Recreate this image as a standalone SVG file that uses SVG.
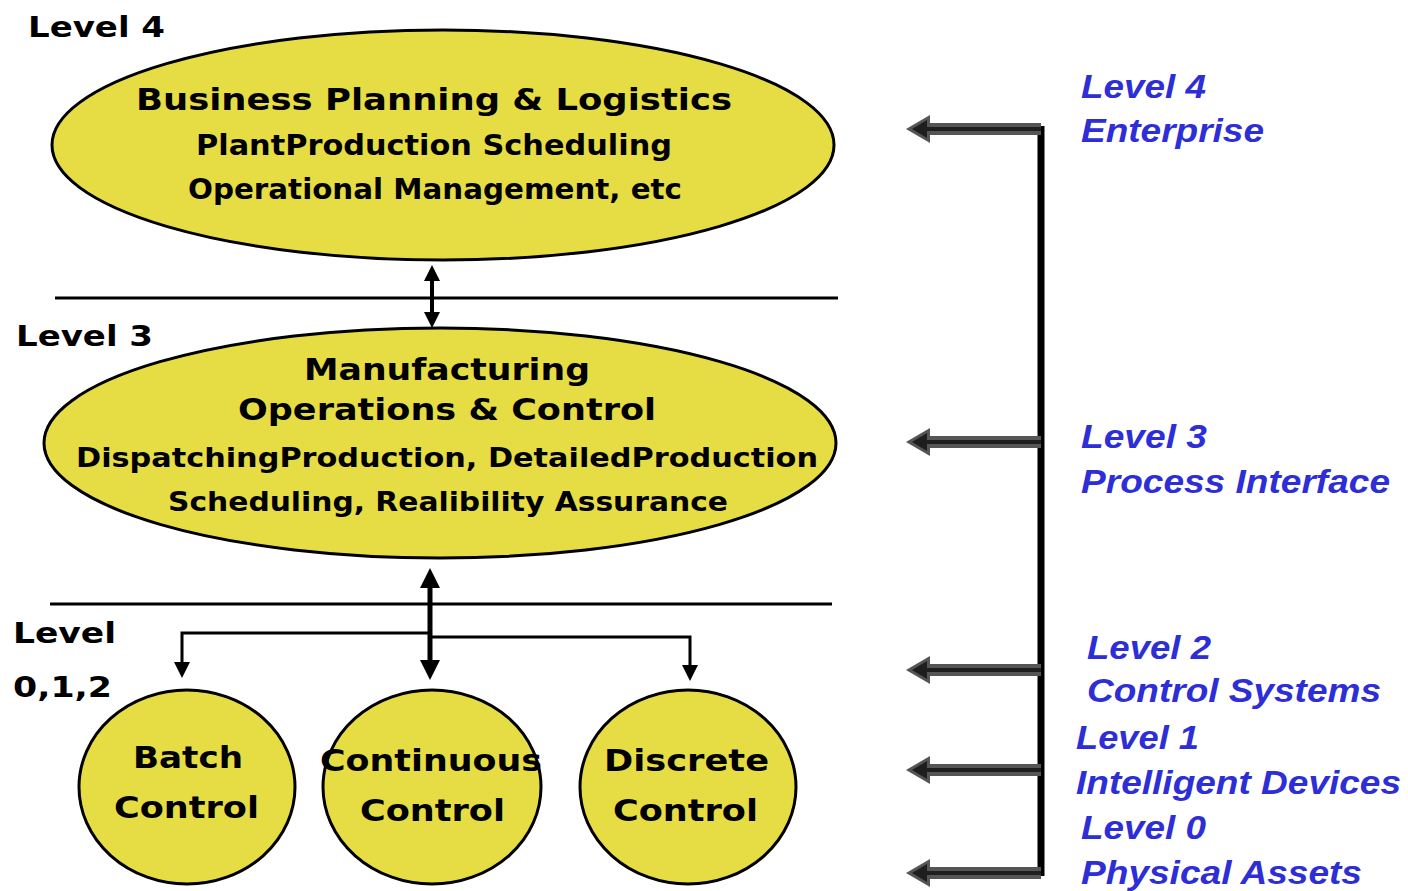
<svg xmlns="http://www.w3.org/2000/svg" width="1408" height="891" viewBox="0 0 1408 891">
<style>
.node{fill:#e6dd45;stroke:#000;stroke-width:3}
.t{font-family:"DejaVu Sans",sans-serif;font-weight:bold;fill:#000}
.b{font-family:"Liberation Sans",Arial,sans-serif;font-weight:bold;font-style:italic;font-size:34px;fill:#2e2ed6}
.sep{stroke:#000;stroke-width:3}
.blk{stroke:#000;fill:none}
.gs{stroke:#555;stroke-width:12}
.gc{stroke:#1e1e1e;stroke-width:4}
</style>
<defs>
<marker id="ah" markerWidth="4" markerHeight="4" refX="2" refY="2" orient="auto-start-reverse" markerUnits="strokeWidth" viewBox="0 0 4 4">
<path d="M0,0 L4,2 L0,4 z" fill="#000"/>
</marker>
<marker id="ah2" markerWidth="16" markerHeight="16" refX="6" refY="8" orient="auto-start-reverse" markerUnits="userSpaceOnUse" viewBox="0 0 16 16">
<path d="M0,0 L16,8 L0,16 z" fill="#000"/>
</marker>
<g id="garrow">
<line class="gs" x1="926" y1="0" x2="1041" y2="0"/>
<path d="M906,0 L930,-14 L930,14 z" fill="#555"/>
<path d="M912,0 L927,-9 L927,9 z" fill="#1e1e1e"/>
<line class="gc" x1="926" y1="0" x2="1041" y2="0"/>
</g>
</defs>
<rect width="1408" height="891" fill="#fff"/>

<g id="labels">
<text class="t" x="28" y="37" font-size="28" textLength="137" lengthAdjust="spacingAndGlyphs">Level 4</text>
<text class="t" x="16" y="346" font-size="28" textLength="137" lengthAdjust="spacingAndGlyphs">Level 3</text>
<text class="t" x="13" y="643" font-size="28" textLength="103" lengthAdjust="spacingAndGlyphs">Level</text>
<text class="t" x="13" y="697" font-size="28" textLength="99" lengthAdjust="spacingAndGlyphs">0,1,2</text>
</g>

<g id="separators">
<line class="sep" x1="55" y1="298" x2="838" y2="298"/>
<line class="sep" x1="50" y1="604" x2="832" y2="604"/>
</g>

<g id="level4">
<ellipse class="node" cx="443" cy="145" rx="391" ry="115"/>
<text class="t" x="136" y="110" font-size="31" textLength="596" lengthAdjust="spacingAndGlyphs">Business Planning &amp; Logistics</text>
<text class="t" x="196" y="155" font-size="29" textLength="476" lengthAdjust="spacingAndGlyphs">PlantProduction Scheduling</text>
<text class="t" x="188" y="199" font-size="29" textLength="494" lengthAdjust="spacingAndGlyphs">Operational Management, etc</text>
</g>

<g id="level3">
<ellipse class="node" cx="440" cy="443" rx="396" ry="115"/>
<text class="t" x="304" y="380" font-size="31" textLength="286" lengthAdjust="spacingAndGlyphs">Manufacturing</text>
<text class="t" x="238" y="420" font-size="31" textLength="418" lengthAdjust="spacingAndGlyphs">Operations &amp; Control</text>
<text class="t" x="76" y="467" font-size="27" textLength="742" lengthAdjust="spacingAndGlyphs">DispatchingProduction, DetailedProduction</text>
<text class="t" x="168" y="511" font-size="27" textLength="560" lengthAdjust="spacingAndGlyphs">Scheduling, Realibility Assurance</text>
</g>

<g id="batch">
<ellipse class="node" cx="187" cy="787" rx="108" ry="97"/>
<text class="t" x="133" y="768" font-size="31" textLength="110" lengthAdjust="spacingAndGlyphs">Batch</text>
<text class="t" x="114" y="818" font-size="31" textLength="145" lengthAdjust="spacingAndGlyphs">Control</text>
</g>
<g id="continuous">
<ellipse class="node" cx="432" cy="787" rx="109" ry="97"/>
<text class="t" x="320" y="771" font-size="31" textLength="222" lengthAdjust="spacingAndGlyphs">Continuous</text>
<text class="t" x="360" y="821" font-size="31" textLength="145" lengthAdjust="spacingAndGlyphs">Control</text>
</g>
<g id="discrete">
<ellipse class="node" cx="688" cy="787" rx="108" ry="97"/>
<text class="t" x="604" y="771" font-size="31" textLength="165" lengthAdjust="spacingAndGlyphs">Discrete</text>
<text class="t" x="613" y="821" font-size="31" textLength="145" lengthAdjust="spacingAndGlyphs">Control</text>
</g>

<g id="connectors">
<line class="blk" stroke-width="4" x1="432" y1="273" x2="432" y2="320" marker-start="url(#ah)" marker-end="url(#ah)"/>
<line class="blk" stroke-width="5" x1="430" y1="578" x2="430" y2="670" marker-start="url(#ah)" marker-end="url(#ah)"/>
<polyline class="blk" stroke-width="3" points="430,633 182,633 182,668" marker-end="url(#ah2)"/>
<polyline class="blk" stroke-width="3" points="430,637 690,637 690,671" marker-end="url(#ah2)"/>
<line stroke="#000" stroke-width="7" x1="1041" y1="126" x2="1041" y2="876"/>
<use href="#garrow" y="129"/>
<use href="#garrow" y="442"/>
<use href="#garrow" y="670"/>
<use href="#garrow" y="770"/>
<use href="#garrow" y="873"/>
</g>

<g id="right-labels">
<text class="b" x="1081" y="98" textLength="125" lengthAdjust="spacingAndGlyphs">Level 4</text>
<text class="b" x="1081" y="142" textLength="183" lengthAdjust="spacingAndGlyphs">Enterprise</text>
<text class="b" x="1081" y="448" textLength="126" lengthAdjust="spacingAndGlyphs">Level 3</text>
<text class="b" x="1081" y="493" textLength="309" lengthAdjust="spacingAndGlyphs">Process Interface</text>
<text class="b" x="1087" y="659" textLength="124" lengthAdjust="spacingAndGlyphs">Level 2</text>
<text class="b" x="1087" y="702" textLength="294" lengthAdjust="spacingAndGlyphs">Control Systems</text>
<text class="b" x="1076" y="749" textLength="123" lengthAdjust="spacingAndGlyphs">Level 1</text>
<text class="b" x="1076" y="794" textLength="325" lengthAdjust="spacingAndGlyphs">Intelligent Devices</text>
<text class="b" x="1081" y="839" textLength="125" lengthAdjust="spacingAndGlyphs">Level 0</text>
<text class="b" x="1081" y="884" textLength="281" lengthAdjust="spacingAndGlyphs">Physical Assets</text>
</g>
</svg>
